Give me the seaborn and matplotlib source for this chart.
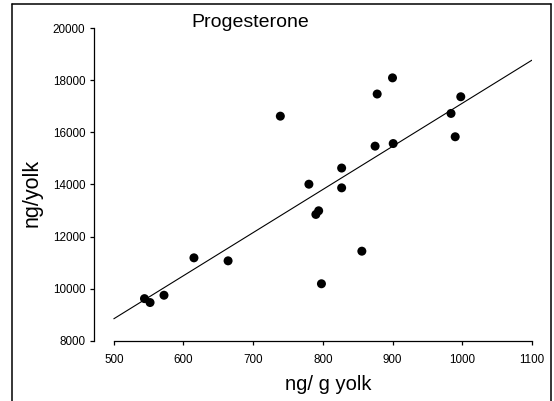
import numpy as np
import pandas as pd
import matplotlib
matplotlib.use("Agg")
import matplotlib.pyplot as plt
from matplotlib.lines import Line2D
import seaborn as sns

# Data
ng_per_g_yolk = [544, 552, 572, 615, 664, 739, 780, 790, 794, 798,
                 827, 827, 856, 875, 878, 900, 901, 984, 990, 998]
ng_per_yolk = [9620, 9470, 9750, 11185, 11070, 16620, 14010, 12850, 12990, 10190,
               14630, 13870, 11440, 15470, 17470, 18090, 15570, 16725, 15830, 17365]
fit_range = [500, 1100]
x_ticks = [500, 600, 700, 800, 900, 1000, 1100]
y_ticks = [8000, 10000, 12000, 14000, 16000, 18000, 20000]
title = "Progesterone"
x_label = "ng/ g yolk"
y_label = "ng/yolk"

df = pd.DataFrame({"x": ng_per_g_yolk, "y": ng_per_yolk})

sns.set_style("ticks")
plt.rcParams["font.family"] = ["Liberation Sans", "DejaVu Sans"]

fig = plt.figure(figsize=(5.54, 4.01), dpi=100)
ax = fig.add_axes([0.169, 0.150, 0.791, 0.780])

# regression line over the fit range
ax.set_xlim(fit_range[0], fit_range[1])
sns.regplot(data=df, x="x", y="y", ax=ax, ci=None, truncate=False,
            color="black",
            scatter_kws=dict(s=42, color="black", edgecolor="none", alpha=1, zorder=3),
            line_kws=dict(color="black", lw=0.8))

ax.set_xlim(471, 1100)
ax.set_ylim(8000, 20000)
ax.set_xticks(x_ticks)
ax.set_yticks(y_ticks)
ax.set_xticklabels([str(v) for v in x_ticks])
ax.set_yticklabels([str(v) for v in y_ticks])

for s in ["top", "right"]:
    ax.spines[s].set_visible(False)
ax.spines["bottom"].set_bounds(x_ticks[0], x_ticks[-1])
ax.spines["left"].set_bounds(y_ticks[0], y_ticks[-1])
for s in ["bottom", "left"]:
    ax.spines[s].set_linewidth(0.9)
    ax.spines[s].set_color("black")

ax.tick_params(axis="y", length=3, width=0.9, pad=3, labelsize=8.4, colors="black")
ax.tick_params(axis="x", length=3, width=0.9, pad=6.5, labelsize=8.4, colors="black")

ax.set_xlabel("")
ax.set_ylabel("")
fig.text(328 / 554, 1 - 390 / 401, x_label, ha="center", va="baseline",
         fontsize=14.5, color="black")
fig.text(32 / 554, 1 - 192.5 / 401, y_label, ha="center", va="center",
         rotation=90, fontsize=15.5, color="black")
fig.text(250 / 554, 1 - 26.7 / 401, title, ha="center", va="baseline",
         fontsize=14, color="black")

# scanned-figure frame
fx0, fx1, fy1 = 12 / 554, 551 / 554, 1 - 4 / 401
for xs, ys in [([fx0, fx0], [0, fy1]), ([fx0, fx1], [fy1, fy1]), ([fx1, fx1], [0, fy1])]:
    fig.add_artist(Line2D(xs, ys, transform=fig.transFigure, color="black", lw=1.1))

fig.savefig("out.png", dpi=100)
